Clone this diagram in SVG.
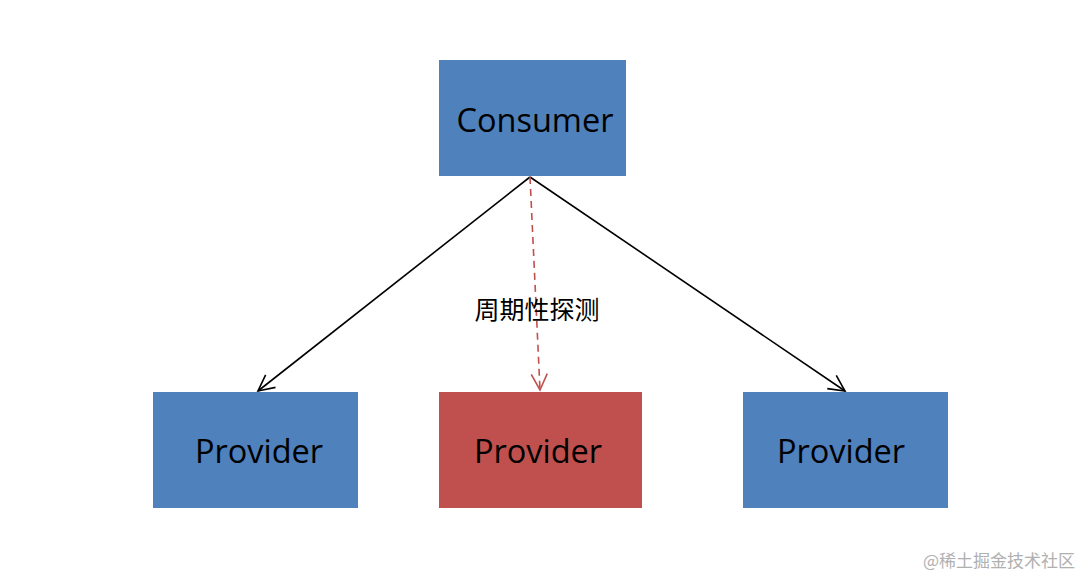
<svg xmlns="http://www.w3.org/2000/svg" width="1080" height="576" viewBox="0 0 1080 576">
<defs>
<style>
.blue{fill:#4f81bd;}
.red{fill:#c0504d;}
.lbl{font-family:"Open Sans","Liberation Sans",sans-serif;font-size:32.5px;fill:#000;text-anchor:middle;}
.edge{stroke:#000;stroke-width:1.6;fill:none;}
.dash{stroke:#c0504d;stroke-width:1.6;fill:none;stroke-dasharray:7,5;}
</style>
<marker id="ah" viewBox="0 0 20 20" refX="18" refY="10" markerWidth="20" markerHeight="20" markerUnits="userSpaceOnUse" orient="auto">
<path d="M2,2 L18,10 L2,18" fill="none" stroke="#000" stroke-width="1.6"/>
</marker>
<marker id="ahr" viewBox="0 0 20 20" refX="18" refY="10" markerWidth="20" markerHeight="20" markerUnits="userSpaceOnUse" orient="auto">
<path d="M2,2 L18,10 L2,18" fill="none" stroke="#c0504d" stroke-width="1.6"/>
</marker>
</defs>
<rect width="1080" height="576" fill="#fff"/>
<g id="connectors">
<line class="edge" x1="530" y1="177" x2="258" y2="391" marker-end="url(#ah)"/>
<line class="edge" x1="530" y1="177" x2="845" y2="391" marker-end="url(#ah)"/>
<line class="dash" x1="530" y1="177" x2="540" y2="390" marker-end="url(#ahr)"/>
<text x="537" y="319" font-family="'Noto Sans CJK SC',sans-serif" font-size="25" text-anchor="middle" fill="#000">周期性探测</text>
</g>
<g id="consumer">
<rect class="blue" x="439" y="60" width="187" height="116"/>
<text class="lbl" x="535" y="132">Consumer</text>
</g>
<g id="provider1">
<rect class="blue" x="153" y="392" width="205" height="116"/>
<text class="lbl" x="259" y="463">Provider</text>
</g>
<g id="provider2">
<rect class="red" x="439" y="392" width="203" height="116"/>
<text class="lbl" x="538" y="463">Provider</text>
</g>
<g id="provider3">
<rect class="blue" x="743" y="392" width="205" height="116"/>
<text class="lbl" x="841" y="463">Provider</text>
</g>
<text x="1075" y="567" font-family="'Noto Sans CJK SC',sans-serif" font-size="17" text-anchor="end" fill="#b0b0b0">@稀土掘金技术社区</text>
</svg>
